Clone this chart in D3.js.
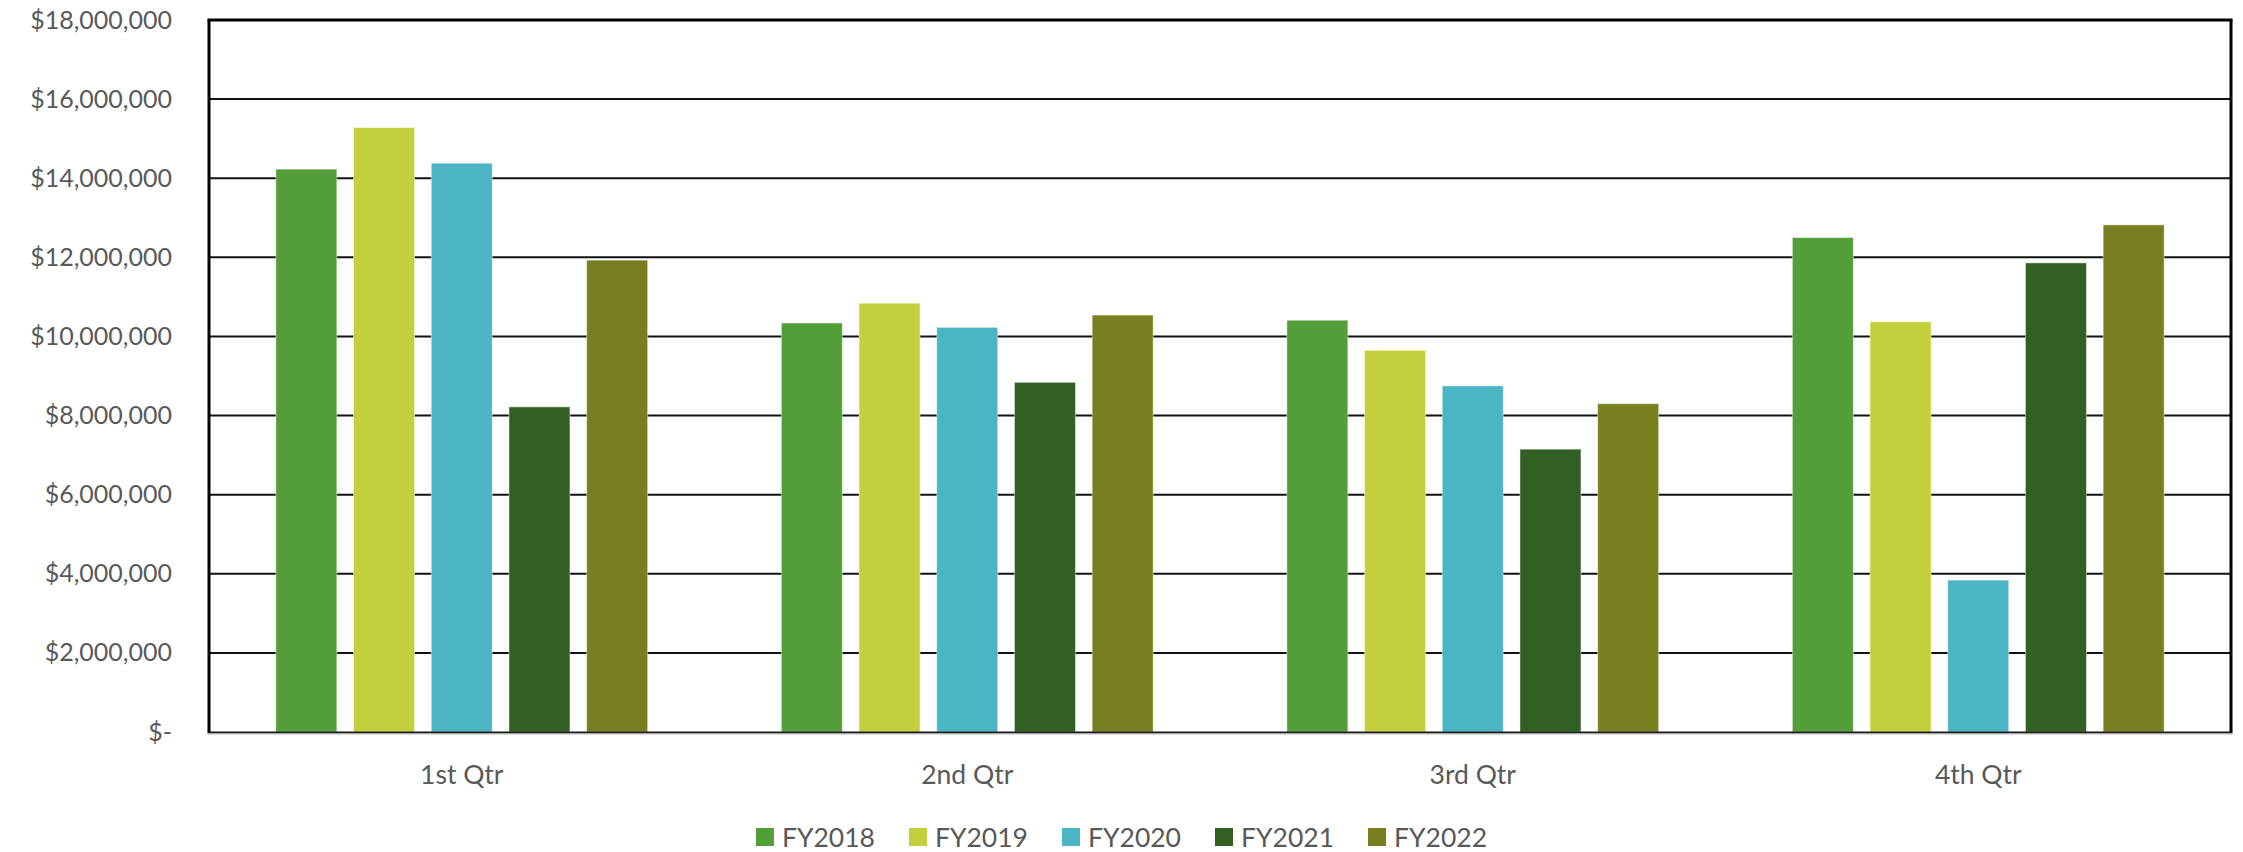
<!DOCTYPE html>
<html>
<head>
<meta charset="utf-8">
<script src="https://cdn.jsdelivr.net/npm/d3@7"></script>
<style>
  html, body { margin: 0; padding: 0; background: #fff; }
  svg { display: block; font-family: Lato, "Open Sans", sans-serif; }
</style>
</head>
<body>
<svg id="chart" width="2243" height="852"></svg>
<script>
// Quarterly revenue by fiscal year
const quarters = ["1st Qtr", "2nd Qtr", "3rd Qtr", "4th Qtr"];
const seriesNames = ["FY2018", "FY2019", "FY2020", "FY2021", "FY2022"];
const fy2018 = [14230000, 10340000, 10410000, 12500000];
const fy2019 = [15280000, 10840000, 9650000, 10370000];
const fy2020 = [14380000, 10230000, 8750000, 3840000];
const fy2021 = [8220000, 8840000, 7150000, 11860000];
const fy2022 = [11930000, 10540000, 8300000, 12820000];
const seriesValues = [fy2018, fy2019, fy2020, fy2021, fy2022];
const seriesColors = ["#549E39", "#C3D03B", "#4BB5C5", "#325F24", "#777F20"];
const yTickValues = [0, 2000000, 4000000, 6000000, 8000000, 10000000, 12000000, 14000000, 16000000, 18000000];

const svg = d3.select("#chart");
const W = 2243, H = 852;
const plot = { left: 209, right: 2231, top: 20, bottom: 732 };
const textColor = "#595959";
const yFont = 25;
const labelFont = 26.5;

const x0 = d3.scaleBand().domain(quarters).range([plot.left, plot.right]).padding(0);
const groupPad = 66.85;
const x1 = d3.scaleBand().domain(seriesNames)
  .range([groupPad, x0.bandwidth() - groupPad])
  .paddingInner(0.215).paddingOuter(0);
const y = d3.scaleLinear().domain([0, 18000000]).range([plot.bottom, plot.top]);

const money = d3.format("$,.0f");
const fmt = v => v === 0 ? "$-" : money(v);

// horizontal gridlines
svg.append("g")
  .selectAll("line")
  .data(yTickValues.filter(v => v > 0 && v < 18000000))
  .join("line")
  .attr("x1", plot.left).attr("x2", plot.right)
  .attr("y1", d => y(d)).attr("y2", d => y(d))
  .attr("stroke", "#111").attr("stroke-width", 2);

// bars
const rows = quarters.map((q, qi) => ({
  q, vals: seriesNames.map((s, si) => ({ s, si, v: seriesValues[si][qi] }))
}));
svg.append("g")
  .selectAll("g")
  .data(rows)
  .join("g")
  .attr("transform", d => `translate(${x0(d.q)},0)`)
  .selectAll("rect")
  .data(d => d.vals)
  .join("rect")
  .attr("x", d => x1(d.s))
  .attr("width", x1.bandwidth())
  .attr("y", d => y(d.v))
  .attr("height", d => y(0) - y(d.v))
  .attr("fill", d => seriesColors[d.si])
  .attr("stroke", "rgba(255,255,255,0.45)")
  .attr("stroke-width", 1);

// frame: top, left, right borders and the base axis line
const frame = svg.append("g").attr("fill", "none");
frame.append("line").attr("x1", plot.left - 1.5).attr("x2", plot.right + 1.5)
  .attr("y1", plot.top).attr("y2", plot.top).attr("stroke", "#000").attr("stroke-width", 3);
frame.append("line").attr("x1", plot.left).attr("x2", plot.left)
  .attr("y1", plot.top).attr("y2", plot.bottom).attr("stroke", "#000").attr("stroke-width", 3);
frame.append("line").attr("x1", plot.right).attr("x2", plot.right)
  .attr("y1", plot.top).attr("y2", plot.bottom).attr("stroke", "#000").attr("stroke-width", 3);
frame.append("line").attr("x1", plot.left - 1.5).attr("x2", plot.right + 1.5)
  .attr("y1", plot.bottom + 0.5).attr("y2", plot.bottom + 0.5).attr("stroke", "#1a1a1a").attr("stroke-width", 2);
frame.append("line").attr("x1", plot.left - 1.5).attr("x2", plot.right + 1.5)
  .attr("y1", plot.bottom + 2).attr("y2", plot.bottom + 2).attr("stroke", "#bfbfbf").attr("stroke-width", 1);

// y axis labels
const yAxis = d3.axisLeft(y).tickValues(yTickValues).tickFormat(fmt).tickSize(0).tickPadding(0);
const gy = svg.append("g").attr("transform", `translate(172,0)`).call(yAxis);
gy.select(".domain").remove();
gy.selectAll("text")
  .attr("fill", textColor)
  .style("font-size", yFont + "px")
  .style("font-family", "Lato, 'Open Sans', sans-serif");

// x axis labels
const xAxis = d3.axisBottom(x0).tickSize(0).tickPadding(0);
const gx = svg.append("g").attr("transform", `translate(0,${plot.bottom})`).call(xAxis);
gx.select(".domain").remove();
gx.selectAll("text")
  .attr("fill", textColor)
  .attr("dy", null)
  .attr("y", 42)
  .attr("dominant-baseline", "central")
  .style("font-size", labelFont + "px")
  .style("font-family", "Lato, 'Open Sans', sans-serif");

// legend centred under the chart
const legend = svg.append("g");
const items = legend.selectAll("g").data(seriesNames).join("g");
items.append("rect").attr("width", 18).attr("height", 18).attr("y", -9)
  .attr("fill", (d, i) => seriesColors[i]);
items.append("text").attr("x", 26).attr("dominant-baseline", "central")
  .attr("fill", textColor).style("font-size", labelFont + "px").text(d => d);
let cx = 0;
const gap = 34;
items.each(function () {
  const g = d3.select(this);
  const tw = g.select("text").node().getComputedTextLength();
  g.attr("transform", `translate(${cx},0)`);
  cx += 26 + tw + gap;
});
const totalW = cx - gap;
legend.attr("transform", `translate(${(W - totalW) / 2},837)`);
</script>
</body>
</html>
